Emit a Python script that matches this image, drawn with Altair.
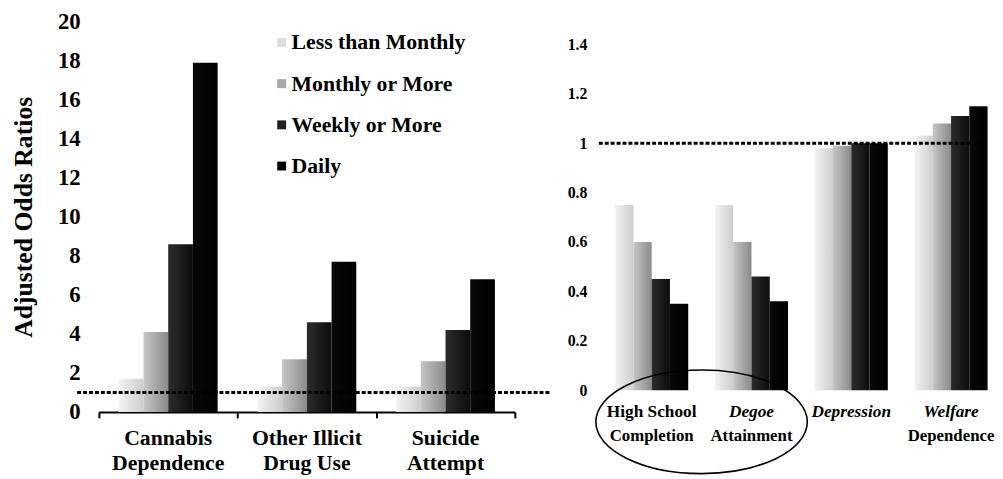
import altair as alt
import pandas as pd

# ---------------- data ----------------
FREQS = ["Less than Monthly", "Monthly or More", "Weekly or More", "Daily"]

left_outcomes = ["Cannabis Dependence", "Other Illicit Drug Use", "Suicide Attempt"]
left_line1 = ["Cannabis", "Other Illicit", "Suicide"]
left_line2 = ["Dependence", "Drug Use", "Attempt"]
left_ltm = [1.7, 1.3, 1.3]
left_monthly = [4.1, 2.7, 2.6]
left_weekly = [8.6, 4.6, 4.2]
left_daily = [17.9, 7.7, 6.8]
left_ticks = [0, 2, 4, 6, 8, 10, 12, 14, 16, 18, 20]

right_outcomes = ["High School Completion", "Degree Attainment", "Depression", "Welfare Dependence"]
right_line1 = ["High School", "Degoe", "Depression", "Welfare"]
right_line2 = ["Completion", "Attainment", "", "Dependence"]
right_line1_italic = [False, True, True, True]
right_ltm = [0.75, 0.75, 0.98, 1.03]
right_monthly = [0.60, 0.60, 0.99, 1.08]
right_weekly = [0.45, 0.46, 1.00, 1.11]
right_daily = [0.35, 0.36, 1.00, 1.15]
right_ticks = [0, 0.2, 0.4, 0.6, 0.8, 1.0, 1.2, 1.4]
circled = ["High School Completion", "Degree Attainment"]
reference_value = [1]

# ---------------- style ----------------
SERIF = "Liberation Serif"
GRAD = [("#f3f3f3", "#cdcdcd"), ("#c6c6c6", "#8a8a8a"),
        ("#2c2c2c", "#0c0c0c"), ("#080808", "#000000")]
LEG_COLORS = ["#dedede", "#a8a8a8", "#1e1e1e", "#000000"]

W_L, H_L = 421, 395
W_R, H_R = 390, 373
STEP_R = 101.0
SHIFT_R = 2.0 / STEP_R

K = 0.5523
RY = 0.49
ELLIPSE = (
    f"M-1,0 C-1,{-K*RY:.4f} {-K:.4f},{-RY} 0,{-RY} C{K:.4f},{-RY} 1,{-K*RY:.4f} 1,0 "
    f"C1,{K*RY:.4f} {K:.4f},{RY} 0,{RY} C{-K:.4f},{RY} -1,{K*RY:.4f} -1,0 Z"
)


def grad(c0, c1):
    return alt.LinearGradient(
        gradient="linear",
        stops=[alt.GradientStop(color=c0, offset=0), alt.GradientStop(color=c1, offset=1)],
        x1=0, x2=1, y1=0, y2=0,
    )


def long_df(outcomes, series):
    rows = []
    for gi, name in enumerate(outcomes):
        for fi, vals in enumerate(series):
            rows.append({"outcome": name, "gi": gi, "fi": fi, "freq": FREQS[fi], "value": vals[gi]})
    return pd.DataFrame(rows)


def bar_layers(df, xs, ys, bw, xaxis, yaxis):
    layers = []
    for fi in range(4):
        layers.append(
            alt.Chart(df)
            .transform_filter(alt.datum.fi == fi)
            .transform_calculate(
                xa=f"datum.gi + (datum.fi - 2) * {bw}",
                xb=f"datum.gi + (datum.fi - 1) * {bw}",
            )
            .mark_bar(color=grad(*GRAD[fi]), strokeWidth=0)
            .encode(
                x=alt.X("xa:Q", scale=xs, axis=xaxis),
                x2="xb:Q",
                y=alt.Y("value:Q", scale=ys, axis=yaxis),
                y2=alt.datum(0),
            )
        )
    return layers


# ---------------- left panel ----------------
dfL = long_df(left_outcomes, [left_ltm, left_monthly, left_weekly, left_daily])
xL = alt.Scale(domain=[-0.5, 2.5], nice=False, zero=False)
yL = alt.Scale(domain=[0, 20], nice=False)
xaxisL = alt.Axis(values=[-0.5, 0.5, 1.5, 2.5], labels=False, ticks=True, tickSize=6,
                  tickWidth=2, tickColor="black", domainColor="black", domainWidth=2,
                  grid=False, title=None)
yaxisL = alt.Axis(values=left_ticks, format="~g", title="Adjusted Odds Ratios",
                  titleFont=SERIF, titleFontSize=26, titleFontWeight="bold", titleColor="black",
                  titlePadding=21, labelFont=SERIF, labelFontSize=23, labelFontWeight="bold",
                  labelColor="black", labelPadding=19, domain=False, ticks=False, grid=False)

layersL = bar_layers(dfL, xL, yL, 25 / 140.33, xaxisL, yaxisL)

labL = pd.DataFrame({"gi": list(range(len(left_outcomes))), "l1": left_line1, "l2": left_line2})
for field, dy in (("l1", 26), ("l2", 52)):
    layersL.append(
        alt.Chart(labL).mark_text(font=SERIF, fontSize=22, fontWeight="bold", color="black",
                                  baseline="middle")
        .encode(x=alt.X("gi:Q", scale=xL, axis=xaxisL), y=alt.value(H_L + dy), text=f"{field}:N")
    )

legDf = pd.DataFrame({"freq": FREQS, "fi": list(range(len(FREQS)))})
layersL.append(
    alt.Chart(legDf).transform_calculate(ly="21 + datum.fi * 41.7")
    .mark_square(size=81, opacity=1)
    .encode(x=alt.value(185), y=alt.Y("ly:Q", scale=None),
            color=alt.Color("freq:N", scale=alt.Scale(domain=FREQS, range=LEG_COLORS), legend=None))
)
layersL.append(
    alt.Chart(legDf).transform_calculate(ly="21 + datum.fi * 41.7")
    .mark_text(font=SERIF, fontSize=22, fontWeight="bold", color="black", align="left",
               baseline="middle")
    .encode(x=alt.value(195), y=alt.Y("ly:Q", scale=None), text="freq:N")
)
layersL.append(
    alt.Chart(pd.DataFrame({"ref": reference_value}))
    .mark_rule(color="black", strokeWidth=3, strokeDash=[4, 2])
    .encode(y=alt.Y("ref:Q", scale=yL, axis=yaxisL), x=alt.value(-22), x2=alt.value(W_L + 37))
)

left = alt.layer(*layersL).properties(width=W_L, height=H_L)

# ---------------- right panel ----------------
dfR = long_df(right_outcomes, [right_ltm, right_monthly, right_weekly, right_daily])
xR = alt.Scale(domain=[-0.5 - SHIFT_R, -0.5 - SHIFT_R + W_R / STEP_R], nice=False, zero=False)
yR = alt.Scale(domain=[0, H_R / 250.0], nice=False)
yaxisR = alt.Axis(values=right_ticks, format="~g", title=None, labelFont=SERIF, labelFontSize=16,
                  labelFontWeight="bold", labelColor="black", labelPadding=13, domain=False,
                  ticks=False, grid=False)

layersR = bar_layers(dfR, xR, yR, 18.5 / STEP_R, None, yaxisR)

labR = pd.DataFrame({"gi": list(range(len(right_outcomes))), "l1": right_line1,
                     "l2": right_line2, "it": right_line1_italic})
for italic in (False, True):
    layersR.append(
        alt.Chart(labR).transform_filter(alt.datum.it == italic)
        .mark_text(font=SERIF, fontSize=17.5, fontWeight="bold",
                   fontStyle="italic" if italic else "normal", color="black", baseline="middle")
        .encode(x=alt.X("gi:Q", scale=xR, axis=None), y=alt.value(H_R + 22), text="l1:N")
    )
layersR.append(
    alt.Chart(labR).mark_text(font=SERIF, fontSize=17, fontWeight="bold", color="black",
                              baseline="middle")
    .encode(x=alt.X("gi:Q", scale=xR, axis=None), y=alt.value(H_R + 46), text="l2:N")
)

circ_idx = [right_outcomes.index(c) for c in circled]
ellDf = pd.DataFrame({"xc": [sum(circ_idx) / len(circ_idx)]})
layersR.append(
    alt.Chart(ellDf)
    .mark_point(shape=ELLIPSE, size=214 ** 2,
                filled=False, stroke="black", strokeWidth=1.6, opacity=1)
    .encode(x=alt.X("xc:Q", scale=xR, axis=None), y=alt.value(H_R + 32))
)
layersR.append(
    alt.Chart(pd.DataFrame({"ref": reference_value}))
    .mark_rule(color="black", strokeWidth=3, strokeDash=[4, 2])
    .encode(y=alt.Y("ref:Q", scale=yR, axis=yaxisR), x=alt.value(-1), x2=alt.value(389))
)

right = alt.layer(*layersR).properties(width=W_R, height=H_R)

chart = (
    alt.hconcat(left, right, spacing=14)
    .properties(padding={"left": 3, "top": 0, "right": 0, "bottom": 0}, background="white")
    .configure_view(stroke=None)
)

chart.save("out.html", embed_options={"renderer": "svg", "actions": False})
